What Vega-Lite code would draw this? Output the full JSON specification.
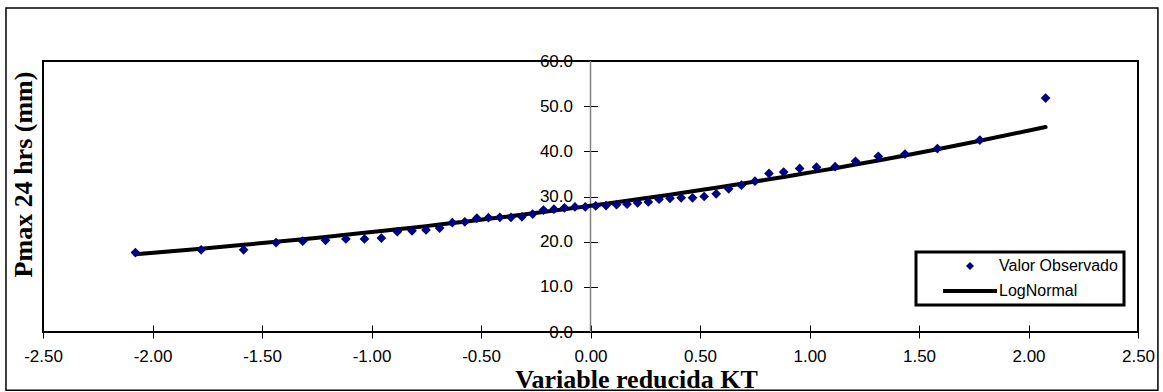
{
  "$schema": "https://vega.github.io/schema/vega-lite/v6.json",
  "width": 1095,
  "height": 271,
  "autosize": {"type": "none"},
  "padding": {"left": 43, "top": 61, "right": 25, "bottom": 60},
  "background": "#ffffff",
  "config": {
    "view": {"stroke": "#000000", "strokeWidth": 2},
    "font": "Liberation Sans",
    "legend": {
      "orient": "none", "legendX": 873, "legendY": 191, "title": null,
      "padding": 6, "strokeColor": "#000000", "fillColor": "#ffffff", "cornerRadius": 0,
      "symbolSize": 64, "symbolOffset": 40, "labelOffset": 21, "rowPadding": 9,
      "labelFont": "Liberation Sans", "labelFontSize": 16, "labelColor": "#000000"
    }
  },
  "data": {
    "values": [
      {"z": -2.078, "obs": 17.6, "logn": 17.20},
      {"z": -1.778, "obs": 18.2, "logn": 18.44},
      {"z": -1.584, "obs": 18.2, "logn": 19.30},
      {"z": -1.436, "obs": 19.8, "logn": 19.98},
      {"z": -1.314, "obs": 20.1, "logn": 20.55},
      {"z": -1.210, "obs": 20.3, "logn": 21.05},
      {"z": -1.117, "obs": 20.6, "logn": 21.52},
      {"z": -1.032, "obs": 20.6, "logn": 21.95},
      {"z": -0.955, "obs": 20.8, "logn": 22.35},
      {"z": -0.882, "obs": 22.2, "logn": 22.74},
      {"z": -0.815, "obs": 22.4, "logn": 23.09},
      {"z": -0.751, "obs": 22.6, "logn": 23.44},
      {"z": -0.689, "obs": 23.0, "logn": 23.79},
      {"z": -0.631, "obs": 24.2, "logn": 24.11},
      {"z": -0.574, "obs": 24.4, "logn": 24.43},
      {"z": -0.519, "obs": 25.2, "logn": 24.75},
      {"z": -0.466, "obs": 25.3, "logn": 25.06},
      {"z": -0.414, "obs": 25.4, "logn": 25.36},
      {"z": -0.363, "obs": 25.4, "logn": 25.67},
      {"z": -0.313, "obs": 25.5, "logn": 25.97},
      {"z": -0.264, "obs": 26.1, "logn": 26.27},
      {"z": -0.215, "obs": 27.0, "logn": 26.57},
      {"z": -0.167, "obs": 27.2, "logn": 26.87},
      {"z": -0.119, "obs": 27.5, "logn": 27.17},
      {"z": -0.071, "obs": 27.7, "logn": 27.48},
      {"z": -0.024, "obs": 27.7, "logn": 27.78},
      {"z": 0.024, "obs": 27.9, "logn": 28.10},
      {"z": 0.071, "obs": 28.0, "logn": 28.41},
      {"z": 0.119, "obs": 28.2, "logn": 28.73},
      {"z": 0.167, "obs": 28.3, "logn": 29.05},
      {"z": 0.215, "obs": 28.6, "logn": 29.38},
      {"z": 0.264, "obs": 28.8, "logn": 29.72},
      {"z": 0.313, "obs": 29.4, "logn": 30.06},
      {"z": 0.363, "obs": 29.6, "logn": 30.41},
      {"z": 0.414, "obs": 29.7, "logn": 30.78},
      {"z": 0.466, "obs": 29.7, "logn": 31.16},
      {"z": 0.519, "obs": 30.0, "logn": 31.54},
      {"z": 0.574, "obs": 30.6, "logn": 31.95},
      {"z": 0.631, "obs": 31.7, "logn": 32.38},
      {"z": 0.689, "obs": 32.5, "logn": 32.82},
      {"z": 0.751, "obs": 33.4, "logn": 33.30},
      {"z": 0.815, "obs": 35.1, "logn": 33.80},
      {"z": 0.882, "obs": 35.4, "logn": 34.33},
      {"z": 0.955, "obs": 36.2, "logn": 34.92},
      {"z": 1.032, "obs": 36.5, "logn": 35.56},
      {"z": 1.117, "obs": 36.6, "logn": 36.27},
      {"z": 1.210, "obs": 37.8, "logn": 37.07},
      {"z": 1.314, "obs": 38.9, "logn": 37.98},
      {"z": 1.436, "obs": 39.4, "logn": 39.08},
      {"z": 1.584, "obs": 40.6, "logn": 40.45},
      {"z": 1.778, "obs": 42.5, "logn": 42.33},
      {"z": 2.078, "obs": 51.8, "logn": 45.40}
    ]
  },
  "layer": [
    {
      "data": {"values": [{}]},
      "mark": {"type": "rect", "filled": false, "stroke": "#000000", "strokeWidth": 1.5, "clip": false},
      "encoding": {
        "x": {"datum": -2.669, "type": "quantitative", "title": "Variable reducida KT"},
        "x2": {"datum": 2.591},
        "y": {"datum": 71.73, "type": "quantitative", "title": "Pmax 24 hrs (mm)"},
        "y2": {"datum": -12.9}
      }
    },
    {
      "data": {"values": [{}]},
      "mark": {"type": "rule", "color": "#808080", "strokeWidth": 1.5},
      "encoding": {
        "x": {"datum": 0, "type": "quantitative", "title": "Variable reducida KT"}
      }
    },
    {
      "mark": {"type": "line", "strokeWidth": 4, "strokeCap": "round"},
      "encoding": {
        "x": {"field": "z", "type": "quantitative", "title": "Variable reducida KT"},
        "y": {"field": "logn", "type": "quantitative", "title": "Pmax 24 hrs (mm)"},
        "color": {
          "datum": "LogNormal", "type": "nominal",
          "scale": {"domain": ["Valor Observado", "LogNormal"], "range": ["#000080", "#000000"]},
          "legend": {
            "encode": {
              "legend": {"update": {"strokeWidth": {"value": 3}}},
              "symbols": {
                "update": {
                  "shape": {"signal": "datum.value === 'LogNormal' ? 'M-6.75,0H6.75' : 'diamond'"},
                  "fill": {"signal": "datum.value === 'LogNormal' ? 'transparent' : '#000080'"},
                  "stroke": {"signal": "datum.value === 'LogNormal' ? '#000000' : 'transparent'"},
                  "strokeWidth": {"signal": "datum.value === 'LogNormal' ? 4 : 0"},
                  "opacity": {"value": 1}
                }
              }
            }
          }
        }
      }
    },
    {
      "mark": {"type": "point", "shape": "diamond", "filled": true, "size": 95, "opacity": 1},
      "encoding": {
        "x": {
          "field": "z", "type": "quantitative", "title": "Variable reducida KT",
          "scale": {"domain": [-2.5, 2.5], "nice": false, "zero": false},
          "axis": {
            "orient": "bottom", "offset": -7, "values": [-2.5, -2, -1.5, -1, -0.5, 0, 0.5, 1, 1.5, 2, 2.5],
            "format": ".2f", "labelExpr": "replace(datum.label, '\u2212', '-')",
            "domain": false, "grid": false,
            "ticks": true, "tickSize": 13, "tickColor": "#000000", "tickWidth": 1,
            "labelPadding": 10, "labelFont": "Liberation Sans",
            "labelFontSize": 17, "labelColor": "#000000", "labelFlush": false, "labelOverlap": false,
            "titleFont": "Liberation Serif", "titleFontSize": 26, "titleFontWeight": "bold", "titleColor": "#000000",
            "titleX": 593, "titleY": 62, "titleAlign": "center", "titleBaseline": "alphabetic"
          }
        },
        "y": {
          "field": "obs", "type": "quantitative", "title": "Pmax 24 hrs (mm)",
          "scale": {"domain": [0, 60], "nice": false, "zero": false},
          "axis": {
            "orient": "left", "offset": -554.5, "values": [0, 10, 20, 30, 40, 50, 60],
            "format": ".1f", "domain": false, "grid": false,
            "ticks": true, "tickSize": 14, "tickColor": "#000000", "tickWidth": 1,
            "labelPadding": 11, "labelFont": "Liberation Sans",
            "labelFontSize": 17, "labelColor": "#000000", "labelFlush": false, "labelOverlap": false,
            "titleFont": "Liberation Serif", "titleFontSize": 26, "titleFontWeight": "bold", "titleColor": "#000000",
            "titleAngle": -90, "titleX": -566.5, "titleY": 113, "titleAlign": "center", "titleBaseline": "alphabetic"
          }
        },
        "color": {
          "datum": "Valor Observado", "type": "nominal",
          "scale": {"domain": ["Valor Observado", "LogNormal"], "range": ["#000080", "#000000"]},
          "legend": {
            "encode": {
              "legend": {"update": {"strokeWidth": {"value": 3}}},
              "symbols": {
                "update": {
                  "shape": {"signal": "datum.value === 'LogNormal' ? 'M-6.75,0H6.75' : 'diamond'"},
                  "fill": {"signal": "datum.value === 'LogNormal' ? 'transparent' : '#000080'"},
                  "stroke": {"signal": "datum.value === 'LogNormal' ? '#000000' : 'transparent'"},
                  "strokeWidth": {"signal": "datum.value === 'LogNormal' ? 4 : 0"},
                  "opacity": {"value": 1}
                }
              }
            }
          }
        }
      }
    }
  ]
}
